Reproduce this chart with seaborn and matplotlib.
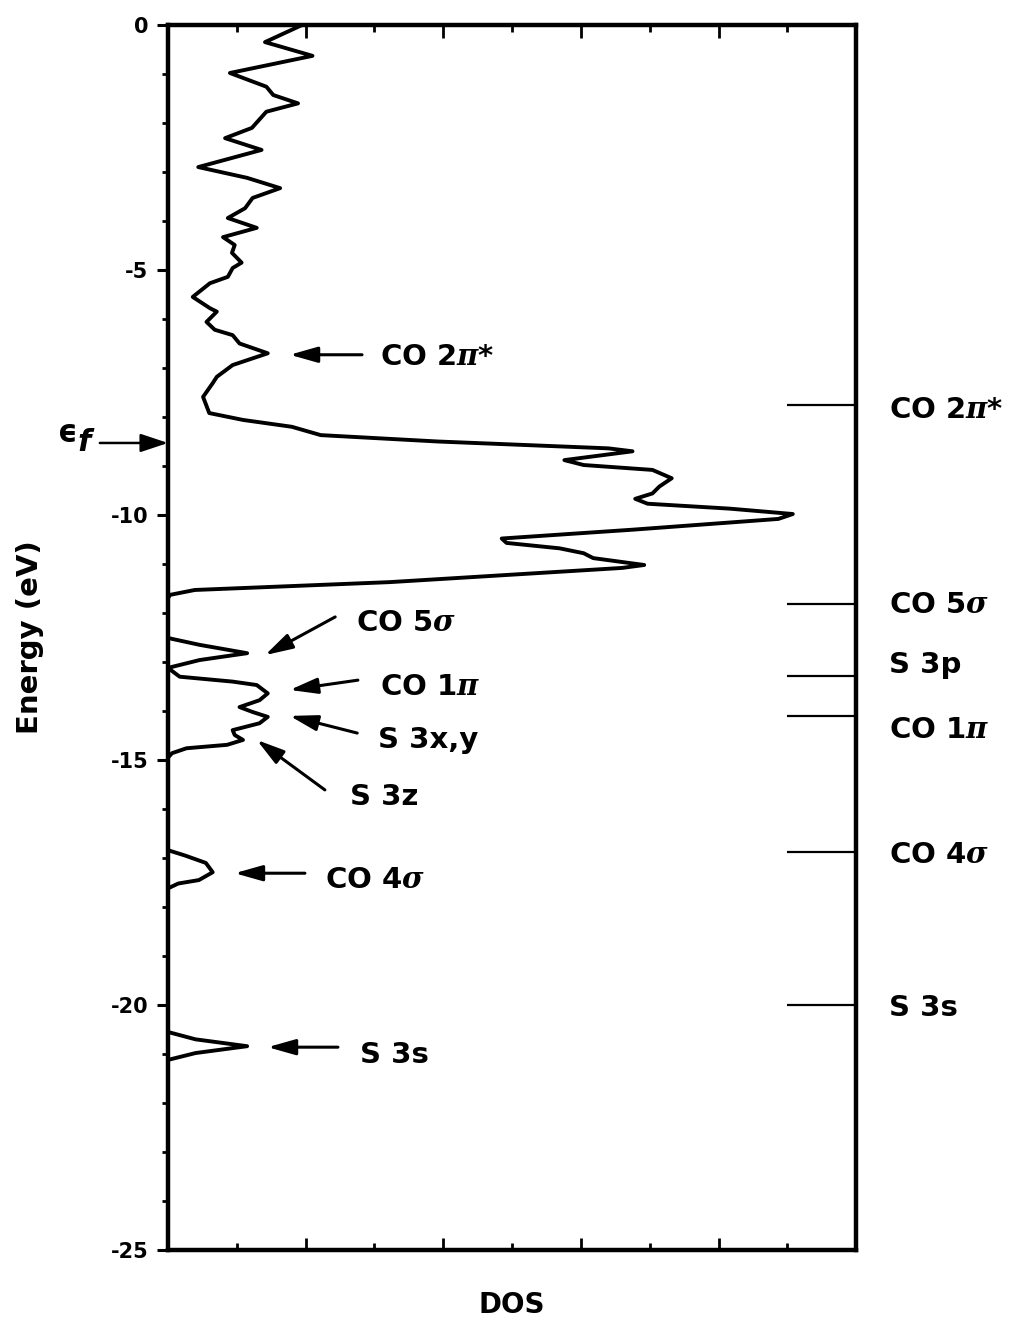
import numpy as np
import pandas as pd
import seaborn as sns
import matplotlib.pyplot as plt

# DOS curve (energy in eV, DOS in arbitrary units)
energy = [0.0, -0.35, -0.63, -0.98, -1.26, -1.43, -1.60, -1.77, -2.10, -2.31,
          -2.55, -2.90, -3.12, -3.33, -3.53, -3.74, -3.94, -4.14, -4.33, -4.49,
          -4.65, -4.85, -4.96, -5.14, -5.27, -5.55, -5.78, -5.85, -6.06, -6.22,
          -6.33, -6.50, -6.70, -6.94, -7.18, -7.31, -7.59, -7.92, -8.06, -8.20,
          -8.37, -8.50, -8.64, -8.70, -8.88, -8.98, -9.08, -9.25, -9.42, -9.56,
          -9.67, -9.77, -9.87, -9.98, -10.08, -10.30, -10.48, -10.57, -10.68, -10.78,
          -10.88, -11.02, -11.08, -11.37, -11.53, -11.63, -11.70, -12.51, -12.65, -12.82,
          -12.96, -13.12, -13.30, -13.40, -13.47, -13.64, -13.78, -13.92, -14.02, -14.12,
          -14.25, -14.39, -14.49, -14.59, -14.69, -14.76, -14.86, -14.95, -16.84, -16.95,
          -17.10, -17.29, -17.45, -17.52, -17.62, -20.55, -20.70, -20.84, -20.98, -21.12,
          -25.0]
dos = [1.95, 1.41, 2.10, 0.90, 1.43, 1.53, 1.89, 1.43, 1.22, 0.83,
       1.36, 0.44, 1.15, 1.63, 1.23, 1.12, 0.87, 1.29, 0.80, 0.97,
       0.93, 1.07, 0.94, 0.87, 0.61, 0.36, 0.61, 0.71, 0.56, 0.68,
       0.94, 1.04, 1.45, 0.94, 0.71, 0.65, 0.51, 0.60, 1.09, 1.80,
       2.22, 3.92, 6.40, 6.75, 5.76, 6.04, 7.04, 7.32, 7.14, 7.04,
       6.79, 6.97, 8.16, 9.08, 8.87, 6.75, 4.85, 4.92, 5.69, 6.04,
       6.18, 6.92, 6.60, 3.22, 0.39, 0.03, 0.0, 0.0, 0.46, 1.15,
       0.46, 0.0, 0.17, 0.94, 1.29, 1.45, 1.33, 1.04, 1.23, 1.45,
       1.33, 0.94, 0.97, 1.09, 0.86, 0.27, 0.06, 0.0, 0.0, 0.25,
       0.55, 0.65, 0.45, 0.15, 0.0, 0.0, 0.40, 1.15, 0.40, 0.0,
       0.0]

# free-molecule levels drawn on the right
level_names = ['CO 2$\\pi$*', 'CO 5$\\sigma$', 'S 3p', 'CO 1$\\pi$', 'CO 4$\\sigma$', 'S 3s']
level_energy = [-7.76, -11.82, -13.29, -14.10, -16.88, -20.00]
level_text_y = [-7.86, -11.84, -13.06, -14.39, -16.94, -20.06]

# peak annotations inside the plot: label, text pos, arrow tail, arrow head
ann_labels = ['CO 2$\\pi$*', 'CO 5$\\sigma$', 'CO 1$\\pi$', 'S 3x,y', 'S 3z', 'CO 4$\\sigma$', 'S 3s']
ann_text = [(3.08, -6.78), (2.73, -12.20), (3.08, -13.50), (3.05, -14.60),
            (2.65, -15.76), (2.28, -17.45), (2.79, -21.02)]
ann_tail = [(2.82, -6.73), (2.43, -12.08), (2.76, -13.37), (2.75, -14.45),
            (2.28, -15.61), (1.99, -17.31), (2.47, -20.86)]
ann_head = [(1.77, -6.73), (1.41, -12.86), (1.77, -13.57), (1.77, -14.10),
            (1.29, -14.59), (0.97, -17.31), (1.45, -20.86)]

e_fermi = -8.53

sns.set_theme(style='ticks')
plt.rcParams['font.family'] = ['DejaVu Sans']
plt.rcParams['mathtext.fontset'] = 'custom'
plt.rcParams['mathtext.it'] = 'DejaVu Serif:italic:bold'
plt.rcParams['mathtext.rm'] = 'DejaVu Sans:bold'
plt.rcParams['axes.unicode_minus'] = False
for k in ['text.color', 'axes.labelcolor', 'xtick.color', 'ytick.color', 'axes.edgecolor']:
    plt.rcParams[k] = 'black'

fig = plt.figure(figsize=(10.18, 13.28), dpi=100)
ax = fig.add_axes([0.165, 0.0587, 0.676, 0.9225])

df = pd.DataFrame({'Energy': energy, 'DOS': dos})
sns.lineplot(data=df, x='DOS', y='Energy', sort=False, estimator=None,
             color='black', lw=2.8, ax=ax, solid_joinstyle='round')

ax.set_xlim(0, 10)
ax.set_ylim(-25, 0)
for s in ax.spines.values():
    s.set_linewidth(3.2)

ax.set_yticks(np.arange(-25, 1, 5))
ax.set_yticks(np.arange(-25, 1, 1), minor=True)
ax.set_xticks(np.arange(0, 11, 2))
ax.set_xticks(np.arange(1, 10, 2), minor=True)
ax.tick_params(axis='y', which='major', direction='out', length=8, width=2.2,
               labelsize=15, pad=6)
ax.tick_params(axis='y', which='minor', direction='out', length=4.5, width=2.0)
ax.tick_params(axis='x', which='major', direction='in', length=9, width=2.0,
               top=True, bottom=True, labelbottom=False)
ax.tick_params(axis='x', which='minor', direction='in', length=5, width=2.0,
               top=True, bottom=True)
for lab in ax.get_yticklabels():
    lab.set_fontweight('bold')

ax.set_ylabel('Energy (eV)', fontsize=21, fontweight='bold', labelpad=48)
ax.set_xlabel('DOS', fontsize=20, fontweight='bold', labelpad=26)

# level markers on the right spine
ax.hlines(level_energy, 9.0, 10.0, color='black', lw=1.6)
for name, y in zip(level_names, level_text_y):
    ax.text(1.048, y, name, transform=ax.get_yaxis_transform(), fontsize=21,
            fontweight='bold', va='center', ha='left', clip_on=False)

# peak labels with arrows
head = '-|>,head_length=0.6,head_width=0.17'
for name, t, a, h in zip(ann_labels, ann_text, ann_tail, ann_head):
    ax.text(t[0], t[1], name, fontsize=21, fontweight='bold', va='center', ha='left')
    ax.annotate('', xy=h, xytext=a,
                arrowprops=dict(arrowstyle=head, color='black', lw=2.2,
                                mutation_scale=28, shrinkA=0, shrinkB=0))

# Fermi level arrow left of the axis
ax.annotate('', xy=(0, e_fermi), xytext=(-0.099, e_fermi),
            xycoords=ax.get_yaxis_transform(), textcoords=ax.get_yaxis_transform(),
            arrowprops=dict(arrowstyle='-|>,head_length=0.6,head_width=0.2', color='black',
                            lw=1.8, mutation_scale=28, shrinkA=0, shrinkB=0),
            annotation_clip=False)
ax.text(-0.145, e_fermi + 0.2, '\u03f5', transform=ax.get_yaxis_transform(),
        fontsize=22, fontweight='bold', ha='center', va='center', clip_on=False)
ax.text(-0.122, e_fermi + 0.0, 'f', transform=ax.get_yaxis_transform(),
        fontsize=22, fontweight='bold', style='italic', ha='center', va='center',
        clip_on=False)

fig.savefig('out.png', dpi=100)
